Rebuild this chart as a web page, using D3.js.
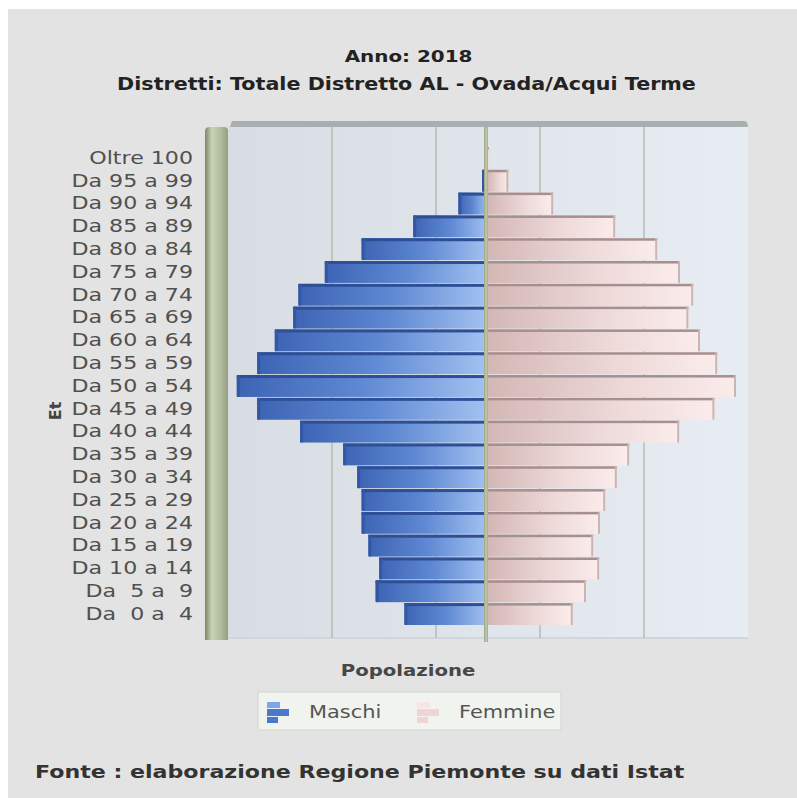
<!DOCTYPE html>
<html>
<head>
<meta charset="utf-8">
<script src="https://cdn.jsdelivr.net/npm/d3@7"></script>
<style>
  html, body { margin: 0; padding: 0; background: #ffffff; }
  svg { display: block; }
</style>
</head>
<body>
<script>
// ---- Data ----
const ageGroups = ["Oltre 100", "Da 95 a 99", "Da 90 a 94", "Da 85 a 89", "Da 80 a 84",
  "Da 75 a 79", "Da 70 a 74", "Da 65 a 69", "Da 60 a 64", "Da 55 a 59", "Da 50 a 54",
  "Da 45 a 49", "Da 40 a 44", "Da 35 a 39", "Da 30 a 34", "Da 25 a 29", "Da 20 a 24",
  "Da 15 a 19", "Da 10 a 14", "Da  5 a  9", "Da  0 a  4"];
const maschi = [3, 75, 370, 935, 1580, 2040, 2370, 2435, 2665, 2885, 3140,
  2885, 2350, 1810, 1635, 1580, 1580, 1495, 1360, 1405, 1045];
const femmine = [10, 255, 815, 1590, 2115, 2400, 2565, 2505, 2650, 2865, 3100,
  2830, 2390, 1765, 1610, 1465, 1400, 1315, 1390, 1225, 1060];
const axisMax = 3250;
const numDivs = 5;
const seriesNames = ["Maschi", "Femmine"];
const titleLines = ["Anno: 2018", "Distretti: Totale Distretto AL - Ovada/Acqui Terme"];
const xAxisTitle = "Popolazione";
const yAxisTitle = "Et";
const footer = "Fonte : elaborazione Regione Piemonte su dati Istat";

// ---- Layout ----
const W = 797, H = 798;
const SX = 1.23; // horizontal stretch of the original rendering
const plot = { left: 228, right: 748, top: 127, bottom: 638 };

const svg = d3.select("body").append("svg").attr("width", W).attr("height", H);
const defs = svg.append("defs");

function hGrad(id, stops) {
  const g = defs.append("linearGradient").attr("id", id)
    .attr("x1", "0%").attr("y1", "0%").attr("x2", "100%").attr("y2", "0%");
  stops.forEach(([o, c]) => g.append("stop").attr("offset", o).attr("stop-color", c));
}
hGrad("bgGrad", [["0%", "#d7dde2"], ["100%", "#e8edf3"]]);
hGrad("wallGrad", [["0%", "#7a8766"], ["30%", "#c9d2b6"], ["65%", "#b4bf9f"], ["100%", "#939f80"]]);
hGrad("maleGrad", [["0%", "#3d64b4"], ["50%", "#5f89d3"], ["100%", "#a3c2f1"]]);
hGrad("femGrad", [["0%", "#d3b7b5"], ["55%", "#ecd8d7"], ["100%", "#fbecec"]]);
hGrad("axisGrad", [["0%", "#93a07c"], ["50%", "#c4ceb0"], ["100%", "#9daa88"]]);

// page background
svg.append("rect").attr("x", 8).attr("y", 9).attr("width", W - 8).attr("height", H - 9).attr("fill", "#e3e3e3");

// ---- Scales ----
const x = d3.scaleLinear().domain([-axisMax, axisMax]).range([plot.left, plot.right]);
const y = d3.scaleBand().domain(ageGroups).range([147, 625]).paddingInner(0.04);

// plot background
svg.append("rect").attr("x", plot.left).attr("y", plot.top)
  .attr("width", plot.right - plot.left).attr("height", plot.bottom - plot.top)
  .attr("fill", "url(#bgGrad)");
// top 3D face
svg.append("path")
  .attr("d", `M${plot.left + 2},${plot.top} L${plot.left + 4},${plot.top - 6} L${plot.right - 4},${plot.top - 6} Q${plot.right},${plot.top - 6} ${plot.right},${plot.top} Z`)
  .attr("fill", "#a9aeb1");
// bottom edge
svg.append("rect").attr("x", plot.left).attr("y", plot.bottom - 1).attr("width", plot.right - plot.left)
  .attr("height", 2).attr("fill", "#d0d6d9");

// div lines
const divVals = d3.range(1, numDivs).map(i => -axisMax + i * 2 * axisMax / numDivs);
svg.append("g").selectAll("line").data(divVals).join("line")
  .attr("x1", d => x(d)).attr("x2", d => x(d))
  .attr("y1", plot.top).attr("y2", plot.bottom)
  .attr("stroke", "#aab2a3").attr("stroke-width", 1.2);

// left wall
svg.append("path")
  .attr("d", `M205,${plot.bottom + 2} L205,${plot.top + 4} Q205,${plot.top} 210,${plot.top} L224,${plot.top} Q228,${plot.top} 228,${plot.top + 4} L228,${plot.bottom + 2} Z`)
  .attr("fill", "url(#wallGrad)");

// ---- Bars ----
const bars = svg.append("g");
const rows = ageGroups.map((g, i) => ({ g, m: maschi[i], f: femmine[i] }));
const x0 = x(0);
const bw = y.bandwidth();

// males
const mg = bars.selectAll("g.m").data(rows).join("g").attr("class", "m");
mg.append("rect")
  .attr("x", d => x(-d.m)).attr("y", d => y(d.g))
  .attr("width", d => Math.max(0, x0 - x(-d.m))).attr("height", bw)
  .attr("fill", "url(#maleGrad)");
mg.append("rect")
  .attr("x", d => x(-d.m)).attr("y", d => y(d.g))
  .attr("width", d => Math.max(0, x0 - x(-d.m))).attr("height", 3)
  .attr("fill", "#2e4f95");
mg.append("rect")
  .attr("x", d => x(-d.m)).attr("y", d => y(d.g))
  .attr("width", d => Math.min(3, Math.max(0, x0 - x(-d.m)))).attr("height", bw)
  .attr("rx", 1.5)
  .attr("fill", "#3357a5");

// females
const fg = bars.selectAll("g.f").data(rows).join("g").attr("class", "f");
fg.append("rect")
  .attr("x", x0).attr("y", d => y(d.g))
  .attr("width", d => Math.max(0, x(d.f) - x0)).attr("height", bw)
  .attr("fill", "url(#femGrad)");
fg.append("rect")
  .attr("x", x0).attr("y", d => y(d.g))
  .attr("width", d => Math.max(0, x(d.f) - x0)).attr("height", 2.5)
  .attr("fill", "#a88f8f");
fg.append("rect")
  .attr("x", d => x(d.f) - 2).attr("y", d => y(d.g))
  .attr("width", d => (x(d.f) - x0) > 2 ? 2 : 0).attr("height", bw)
  .attr("fill", "#cdb3b2");

// zero axis plane
svg.append("rect").attr("x", x0 - 4).attr("y", plot.top).attr("width", 4)
  .attr("height", plot.bottom - plot.top + 4).attr("fill", "url(#axisGrad)");

// ---- Y axis labels ----
const yAxis = svg.append("g").attr("transform", "translate(193,0)")
  .call(d3.axisLeft(y).tickSize(0).tickPadding(0));
yAxis.select(".domain").remove();
yAxis.selectAll("text")
  .attr("x", 0)
  .attr("transform", `scale(${SX},1)`)
  .style("white-space", "pre")
  .attr("font-family", "DejaVu Sans, Verdana, sans-serif")
  .attr("font-size", 18)
  .attr("fill", "#505050");

// ---- Texts ----
function sText(px, py, txt, opts) {
  const g = svg.append("g").attr("transform", `translate(${px},${py}) scale(${SX},1)`);
  const t = g.append("text").text(txt)
    .attr("font-family", "DejaVu Sans, Verdana, sans-serif")
    .attr("font-size", opts.size)
    .attr("font-weight", opts.bold ? "bold" : "normal")
    .attr("fill", opts.color)
    .attr("text-anchor", opts.anchor || "start")
    .style("white-space", "pre");
  return t;
}
sText(408.5, 62, titleLines[0], { size: 16.2, bold: true, color: "#222222", anchor: "middle" });
sText(406.5, 90, titleLines[1], { size: 16.8, bold: true, color: "#222222", anchor: "middle" });
sText(408, 676, xAxisTitle, { size: 16, bold: true, color: "#474747", anchor: "middle" });
sText(35, 778, footer, { size: 18, bold: true, color: "#333333", anchor: "start" });

// rotated y title
svg.append("text").text(yAxisTitle)
  .attr("transform", "translate(61,411) rotate(-90)")
  .attr("text-anchor", "middle")
  .attr("font-family", "DejaVu Sans, Verdana, sans-serif")
  .attr("font-size", 16).attr("font-weight", "bold").attr("fill", "#444444");

// ---- Legend ----
const legend = svg.append("g");
legend.append("rect").attr("x", 258).attr("y", 692).attr("width", 303).attr("height", 38)
  .attr("fill", "#f1f3ee").attr("stroke", "#d2d5cc").attr("stroke-width", 1);
const legendItems = [
  { name: seriesNames[0], ix: 267, tx: 309, c1: "#4a78d0", c2: "#7fa6e8" },
  { name: seriesNames[1], ix: 417, tx: 459, c1: "#f1d3d3", c2: "#f8e4e4" }
];
legendItems.forEach(it => {
  const g = legend.append("g");
  g.append("rect").attr("x", it.ix).attr("y", 702).attr("width", 13).attr("height", 6).attr("fill", it.c2);
  g.append("rect").attr("x", it.ix).attr("y", 709).attr("width", 22).attr("height", 7).attr("fill", it.c1);
  g.append("rect").attr("x", it.ix).attr("y", 717).attr("width", 11).attr("height", 6).attr("fill", it.c1);
  sText(it.tx, 718, it.name, { size: 17, bold: false, color: "#555555" });
});
</script>
</body>
</html>
